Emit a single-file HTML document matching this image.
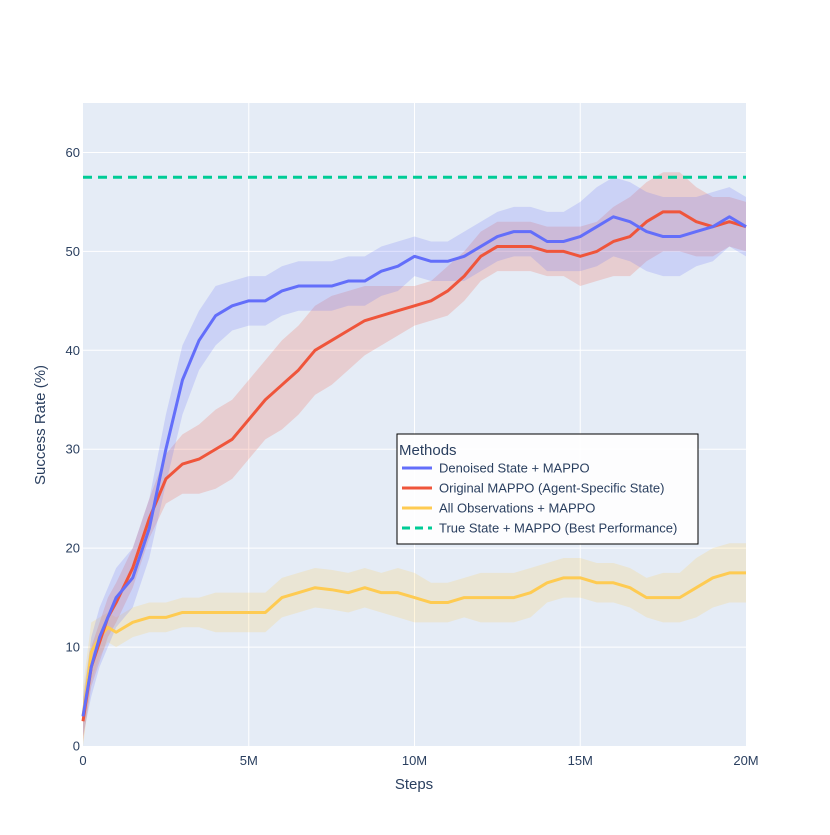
<!DOCTYPE html>
<html><head><meta charset="utf-8">
<style>
body{margin:0;background:#fff;font-family:"Liberation Sans",Arial,sans-serif}
svg text{font-family:"Liberation Sans",Arial,sans-serif;fill:#2a3f5f}
</style></head>
<body>
<svg id="chart" width="830" height="830" viewBox="0 0 830 830">
<rect x="0" y="0" width="830" height="830" fill="#fff"/>
<rect x="83" y="103" width="663" height="643" fill="#e5ecf6"/>
<g id="grid"></g>
<g id="bands"></g>
<g id="lines"></g>
<g id="ticks"></g>
<text x="45" y="425" font-size="15" text-anchor="middle" transform="rotate(-90 45 425)">Success Rate (%)</text>
<text x="414" y="789" font-size="15" text-anchor="middle">Steps</text>
<g>
<rect x="397" y="434" width="301" height="110" fill="#fff" fill-opacity="0.9" stroke="#000" stroke-width="1"/>
<text x="399" y="455" font-size="15">Methods</text>
<g><line x1="402" y1="468" x2="432" y2="468" stroke="#636efa" stroke-width="3"/><text x="439" y="472.5" font-size="13">Denoised State + MAPPO</text></g>
<g><line x1="402" y1="488" x2="432" y2="488" stroke="#EF553B" stroke-width="3"/><text x="439" y="492.5" font-size="13">Original MAPPO (Agent-Specific State)</text></g>
<g><line x1="402" y1="508" x2="432" y2="508" stroke="#FECB52" stroke-width="3"/><text x="439" y="512.5" font-size="13">All Observations + MAPPO</text></g>
<g><line x1="402" y1="528" x2="432" y2="528" stroke="#00cc96" stroke-width="3" stroke-dasharray="8,5"/><text x="439" y="532.5" font-size="13">True State + MAPPO (Best Performance)</text></g>
</g>
</svg>
<script>
const steps=[0,0.25,0.5,0.75,1,1.5,2,2.5,3,3.5,4,4.5,5,5.5,6,6.5,7,7.5,8,8.5,9,9.5,10,10.5,11,11.5,12,12.5,13,13.5,14,14.5,15,15.5,16,16.5,17,17.5,18,18.5,19,19.5,20];
const denoised=[3,8,11,13,15,17,22,30,37,41,43.5,44.5,45,45,46,46.5,46.5,46.5,47,47,48,48.5,49.5,49,49,49.5,50.5,51.5,52,52,51,51,51.5,52.5,53.5,53,52,51.5,51.5,52,52.5,53.5,52.5];
const denoisedSpread=[2,3,3,3,3,3,3,3.5,3.5,3,3,2.5,2.5,2.5,2.5,2.5,2.5,2.5,2.5,2.5,2.5,2.5,2,2,2,2.5,2.5,2.5,2.5,2.5,3,3,3.5,4,4,4,4,4,4,3.5,3.5,3,3];
const original=[2.5,8,10.5,13,14.5,18,23,27,28.5,29,30,31,33,35,36.5,38,40,41,42,43,43.5,44,44.5,45,46,47.5,49.5,50.5,50.5,50.5,50,50,49.5,50,51,51.5,53,54,54,53,52.5,53,52.5];
const originalSpread=[2,2,2,2,2,2,2,2.5,3,3.5,4,4,4,4,4.5,4.5,4.5,4.5,4,3.5,3,2.5,2,2,2.5,2.5,2.5,2.5,2.5,2.5,2.5,2.5,3,3,3.5,4,4,4,4,3.5,3,2.5,2.5];
const allObs=[3,9.5,11,12,11.5,12.5,13,13,13.5,13.5,13.5,13.5,13.5,13.5,15,15.5,16,15.8,15.5,16,15.5,15.5,15,14.5,14.5,15,15,15,15,15.5,16.5,17,17,16.5,16.5,16,15,15,15,16,17,17.5,17.5];
const allObsSpread=[3,3,2,1.5,1.5,1.5,1.5,1.5,1.5,1.5,2,2,2,2,2,2,2,2,2,2,2,2.5,2.5,2,2,2,2.5,2.5,2.5,2.5,2,2,2,2,2,2,2,2.5,2.5,3,3,3,3];
const trueState=57.5;
const xTicks=[0,5,10,15,20];
const xTickLabels=["0","5M","10M","15M","20M"];
const yTicks=[0,10,20,30,40,50,60];

const NS="http://www.w3.org/2000/svg";
const X0=83,X1=746,Y0=746,Y1=103,XMAX=20,YMAX=65;
function xs(v){return X0+(v/XMAX)*(X1-X0);}
function ys(v){return Y0-(v/YMAX)*(Y0-Y1);}
function mk(tag,attrs,parent){const e=document.createElementNS(NS,tag);for(const k in attrs)e.setAttribute(k,attrs[k]);parent.appendChild(e);return e;}
const grid=document.getElementById('grid'),ticks=document.getElementById('ticks'),bands=document.getElementById('bands'),lines=document.getElementById('lines');
xTicks.forEach((t,i)=>{
  if(t>0&&t<XMAX){const g=mk('line',{x1:xs(t),x2:xs(t),y1:Y1,y2:Y0,stroke:'#fff','stroke-width':1},grid);
  
  }
  const tx=mk('text',{x:xs(t),y:Y0+19,'font-size':13,'text-anchor':'middle'},ticks);tx.textContent=xTickLabels[i];
  
  
});
yTicks.forEach(t=>{
  if(t>0){const g=mk('line',{x1:X0,x2:X1,y1:ys(t),y2:ys(t),stroke:'#fff','stroke-width':1},grid);
  
  }
  const tx=mk('text',{x:X0-3,y:ys(t)+4.5,'font-size':13,'text-anchor':'end'},ticks);tx.textContent=String(t);
  
  
});
function series(vals,spread,color,fill,name){
  let up=steps.map((s,i)=>xs(s)+','+ys(vals[i]+spread[i]));
  let lo=steps.map((s,i)=>xs(s)+','+ys(Math.max(0,vals[i]-spread[i]))).reverse();
  const b=mk('polygon',{points:up.concat(lo).join(' '),fill:fill},bands);
  
  
  const l=mk('polyline',{points:steps.map((s,i)=>xs(s)+','+ys(vals[i])).join(' '),fill:'none',stroke:color,'stroke-width':3,'stroke-linejoin':'round'},lines);
  
  
}
series(allObs,allObsSpread,'#FECB52','rgba(254,203,82,0.2)','all-observations');
series(original,originalSpread,'#EF553B','rgba(239,85,59,0.2)','original-mappo');
series(denoised,denoisedSpread,'#636efa','rgba(99,110,250,0.2)','denoised-state');
const ts=mk('line',{x1:X0,x2:X1,y1:ys(trueState),y2:ys(trueState),stroke:'#00cc96','stroke-width':3,'stroke-dasharray':'9,6'},lines);


</script>
</body></html>
